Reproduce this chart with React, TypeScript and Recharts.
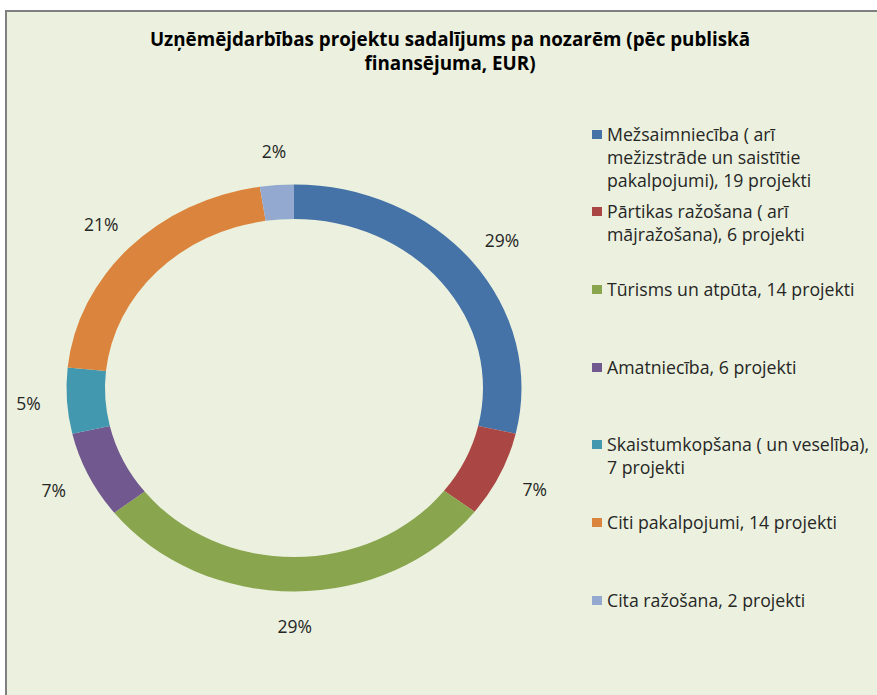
import { PieChart, Pie, Cell, Legend } from "recharts";

const sectors = [
  "Mežsaimniecība ( arī\nmežizstrāde un saistītie\npakalpojumi), 19 projekti",
  "Pārtikas ražošana ( arī\nmājražošana), 6 projekti",
  "Tūrisms un atpūta, 14 projekti",
  "Amatniecība, 6 projekti",
  "Skaistumkopšana ( un veselība),\n7 projekti",
  "Citi pakalpojumi, 14 projekti",
  "Cita ražošana, 2 projekti",
];

// share of public funding, %
const shares = [28.6, 6.8, 29.1, 6.9, 5.2, 21.0, 2.4];

const colors = [
  "#4572A7",
  "#AA4643",
  "#89A54E",
  "#71588F",
  "#4198AF",
  "#DB843D",
  "#93A9CF",
];

const data = sectors.map((name, i) => ({
  name,
  value: shares[i],
  fill: colors[i],
}));

const CX = 294;
const CY = 388;
const SQUASH = 0.8945; // the ring is an ellipse in the original
const LABEL_R = 266;
const RAD = Math.PI / 180;

const renderLabel = (props: any) => {
  const { cx, cy, midAngle, percent } = props;
  const x = cx + LABEL_R * Math.cos(-midAngle * RAD);
  const y = cy + LABEL_R * SQUASH * Math.sin(-midAngle * RAD);
  return (
    <text
      x={x}
      y={y}
      textAnchor="middle"
      dominantBaseline="central"
      fill="#262626"
      fontSize={17.5}
      fontFamily="'Open Sans', sans-serif"
    >
      {`${Math.round(percent * 100)}%`}
    </text>
  );
};

// legend keeps the data order (recharts would sort it by name)
const renderLegend = () => {
  return (
    <div>
      {data.map((entry, i) => (
        <div key={i} style={{ position: "relative", height: 77.7 }}>
          <div
            style={{
              position: "absolute",
              left: 2,
              top: 7,
              width: 10,
              height: 9,
              background: entry.fill,
            }}
          />
          <div
            style={{
              position: "absolute",
              left: 17,
              top: 0,
              whiteSpace: "pre",
              lineHeight: "23px",
              fontSize: 17.7,
              color: "#262626",
              fontFamily: "'Open Sans', sans-serif",
            }}
          >
            {entry.name}
          </div>
        </div>
      ))}
    </div>
  );
};

export default function App() {
  return (
    <div
      style={{
        position: "relative",
        width: 877,
        height: 695,
        background: "#fff",
        overflow: "hidden",
      }}
    >
      <style>{`
        body { margin: 0; }
        .recharts-pie-sector {
          transform: scaleY(${SQUASH});
          transform-origin: ${CX}px ${CY}px;
        }
      `}</style>
      <div
        style={{
          position: "absolute",
          left: 5,
          top: 10,
          width: 890,
          height: 700,
          background: "#EBF1DE",
          borderLeft: "2px solid #7F7F7F",
          borderTop: "2px solid #7F7F7F",
        }}
      />
      <div
        style={{
          position: "absolute",
          left: 100,
          top: 27,
          width: 700,
          textAlign: "center",
          fontFamily: "'Open Sans', sans-serif",
          fontWeight: "bold",
          fontSize: 18.8,
          lineHeight: "24px",
          color: "#000",
        }}
      >
        Uzņēmējdarbības projektu sadalījums pa nozarēm (pēc publiskā
        <br />
        finansējuma, EUR)
      </div>
      <div style={{ position: "absolute", left: 0, top: 0 }}>
        <PieChart
          width={877}
          height={695}
          margin={{ top: 0, right: 0, bottom: 0, left: 0 }}
        >
          <Pie
            data={data}
            dataKey="value"
            nameKey="name"
            cx={CX}
            cy={CY}
            outerRadius={227.5}
            innerRadius={189}
            startAngle={90}
            endAngle={-270}
            stroke="none"
            label={renderLabel}
            labelLine={false}
            isAnimationActive={false}
          >
            {data.map((d, i) => (
              <Cell key={i} fill={d.fill} />
            ))}
          </Pie>
          <Legend
            layout="vertical"
            content={renderLegend}
            wrapperStyle={{ left: 590, top: 122.5, width: 285 }}
          />
        </PieChart>
      </div>
    </div>
  );
}
